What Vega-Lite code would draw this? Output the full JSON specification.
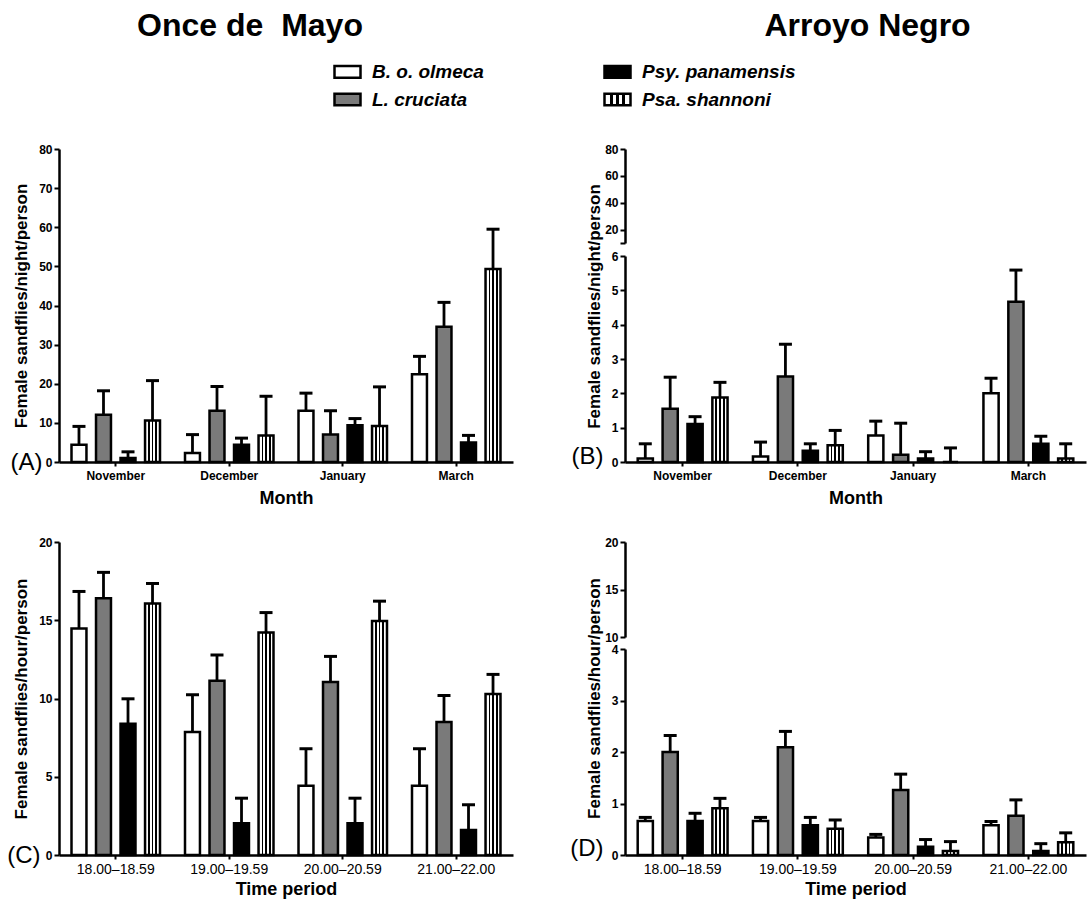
{
  "$schema": "https://vega.github.io/schema/vega-lite/v6.json",
  "autosize": {"type": "none"},
  "padding": {"left": 59, "top": 149, "right": 1033, "bottom": 755},
  "background": "white",
  "data": {"values": [
    {"p":"A","cat":"November","sp":"B. o. olmeca","v":4.4,"u":9.1},
    {"p":"A","cat":"November","sp":"L. cruciata","v":12.1,"u":18.2},
    {"p":"A","cat":"November","sp":"Psy. panamensis","v":1.0,"u":2.6},
    {"p":"A","cat":"November","sp":"Psa. shannoni","v":10.6,"u":20.8},
    {"p":"A","cat":"December","sp":"B. o. olmeca","v":2.3,"u":7.0},
    {"p":"A","cat":"December","sp":"L. cruciata","v":13.1,"u":19.3},
    {"p":"A","cat":"December","sp":"Psy. panamensis","v":4.4,"u":6.1},
    {"p":"A","cat":"December","sp":"Psa. shannoni","v":6.8,"u":16.8},
    {"p":"A","cat":"January","sp":"B. o. olmeca","v":13.1,"u":17.6},
    {"p":"A","cat":"January","sp":"L. cruciata","v":7.0,"u":13.1},
    {"p":"A","cat":"January","sp":"Psy. panamensis","v":9.4,"u":11.1},
    {"p":"A","cat":"January","sp":"Psa. shannoni","v":9.2,"u":19.2},
    {"p":"A","cat":"March","sp":"B. o. olmeca","v":22.4,"u":27.0},
    {"p":"A","cat":"March","sp":"L. cruciata","v":34.6,"u":40.8},
    {"p":"A","cat":"March","sp":"Psy. panamensis","v":5.0,"u":6.8},
    {"p":"A","cat":"March","sp":"Psa. shannoni","v":49.3,"u":59.5},
    {"p":"B","cat":"November","sp":"B. o. olmeca","v":0.10,"u":0.53},
    {"p":"B","cat":"November","sp":"L. cruciata","v":1.55,"u":2.47},
    {"p":"B","cat":"November","sp":"Psy. panamensis","v":1.11,"u":1.32},
    {"p":"B","cat":"November","sp":"Psa. shannoni","v":1.88,"u":2.32},
    {"p":"B","cat":"December","sp":"B. o. olmeca","v":0.16,"u":0.58},
    {"p":"B","cat":"December","sp":"L. cruciata","v":2.49,"u":3.43},
    {"p":"B","cat":"December","sp":"Psy. panamensis","v":0.33,"u":0.53},
    {"p":"B","cat":"December","sp":"Psa. shannoni","v":0.49,"u":0.92},
    {"p":"B","cat":"January","sp":"B. o. olmeca","v":0.77,"u":1.19},
    {"p":"B","cat":"January","sp":"L. cruciata","v":0.21,"u":1.13},
    {"p":"B","cat":"January","sp":"Psy. panamensis","v":0.10,"u":0.30},
    {"p":"B","cat":"January","sp":"Psa. shannoni","v":0,"u":0.41},
    {"p":"B","cat":"March","sp":"B. o. olmeca","v":2.0,"u":2.44},
    {"p":"B","cat":"March","sp":"L. cruciata","v":4.67,"u":5.59},
    {"p":"B","cat":"March","sp":"Psy. panamensis","v":0.53,"u":0.75},
    {"p":"B","cat":"March","sp":"Psa. shannoni","v":0.10,"u":0.53},
    {"p":"C","cat":"18.00–18.59","sp":"B. o. olmeca","v":14.47,"u":16.84},
    {"p":"C","cat":"18.00–18.59","sp":"L. cruciata","v":16.41,"u":18.06},
    {"p":"C","cat":"18.00–18.59","sp":"Psy. panamensis","v":8.38,"u":9.98},
    {"p":"C","cat":"18.00–18.59","sp":"Psa. shannoni","v":16.07,"u":17.35},
    {"p":"C","cat":"19.00–19.59","sp":"B. o. olmeca","v":7.86,"u":10.24},
    {"p":"C","cat":"19.00–19.59","sp":"L. cruciata","v":11.13,"u":12.78},
    {"p":"C","cat":"19.00–19.59","sp":"Psy. panamensis","v":2.03,"u":3.63},
    {"p":"C","cat":"19.00–19.59","sp":"Psa. shannoni","v":14.21,"u":15.49},
    {"p":"C","cat":"20.00–20.59","sp":"B. o. olmeca","v":4.42,"u":6.79},
    {"p":"C","cat":"20.00–20.59","sp":"L. cruciata","v":11.05,"u":12.69},
    {"p":"C","cat":"20.00–20.59","sp":"Psy. panamensis","v":2.03,"u":3.63},
    {"p":"C","cat":"20.00–20.59","sp":"Psa. shannoni","v":14.96,"u":16.22},
    {"p":"C","cat":"21.00–22.00","sp":"B. o. olmeca","v":4.42,"u":6.79},
    {"p":"C","cat":"21.00–22.00","sp":"L. cruciata","v":8.50,"u":10.19},
    {"p":"C","cat":"21.00–22.00","sp":"Psy. panamensis","v":1.60,"u":3.21},
    {"p":"C","cat":"21.00–22.00","sp":"Psa. shannoni","v":10.28,"u":11.54},
    {"p":"D","cat":"18.00–18.59","sp":"B. o. olmeca","v":0.66,"u":0.73},
    {"p":"D","cat":"18.00–18.59","sp":"L. cruciata","v":2.00,"u":2.32},
    {"p":"D","cat":"18.00–18.59","sp":"Psy. panamensis","v":0.66,"u":0.81},
    {"p":"D","cat":"18.00–18.59","sp":"Psa. shannoni","v":0.91,"u":1.10},
    {"p":"D","cat":"19.00–19.59","sp":"B. o. olmeca","v":0.66,"u":0.73},
    {"p":"D","cat":"19.00–19.59","sp":"L. cruciata","v":2.09,"u":2.40},
    {"p":"D","cat":"19.00–19.59","sp":"Psy. panamensis","v":0.58,"u":0.73},
    {"p":"D","cat":"19.00–19.59","sp":"Psa. shannoni","v":0.51,"u":0.68},
    {"p":"D","cat":"20.00–20.59","sp":"B. o. olmeca","v":0.34,"u":0.40},
    {"p":"D","cat":"20.00–20.59","sp":"L. cruciata","v":1.26,"u":1.57},
    {"p":"D","cat":"20.00–20.59","sp":"Psy. panamensis","v":0.16,"u":0.30},
    {"p":"D","cat":"20.00–20.59","sp":"Psa. shannoni","v":0.08,"u":0.26},
    {"p":"D","cat":"21.00–22.00","sp":"B. o. olmeca","v":0.58,"u":0.65},
    {"p":"D","cat":"21.00–22.00","sp":"L. cruciata","v":0.76,"u":1.07},
    {"p":"D","cat":"21.00–22.00","sp":"Psy. panamensis","v":0.08,"u":0.22},
    {"p":"D","cat":"21.00–22.00","sp":"Psa. shannoni","v":0.25,"u":0.43}
  ]},
  "bounds": "flush",
  "columns": 2,
  "spacing": {"row": 80, "column": 112},
  "concat": [
    {
      "width": 454, "height": 313,
      "title": {"text": "Once de\u00a0 Mayo", "fontSize": 32, "font": "Liberation Sans", "fontWeight": "bold", "color": "black", "anchor": "middle", "frame": "group", "baseline": "alphabetic", "offset": 75, "dx": -36},
      "transform": [{"filter": "datum.p==='A'"}],
      "encoding": {
        "x": {"field": "cat", "type": "nominal", "sort": ["November","December","January","March"], "scale": {"paddingInner": 0, "paddingOuter": 0}, "axis": {"title": "Month", "labelAngle": 0, "labelPadding": 4, "titleFontSize": 18, "titlePadding": 8}},
        "xOffset": {"field": "sp", "type": "nominal", "sort": ["B. o. olmeca","L. cruciata","Psy. panamensis","Psa. shannoni"], "scale": {"paddingInner": 0.39, "paddingOuter": 0.51}}
      },
      "layer": [
        {"layer": [
          {"transform": [{"filter": "datum.sp === 'Psa. shannoni'"}],
           "mark": {"type": "bar", "stroke": "black", "strokeWidth": 2.5, "fill": {"gradient": "linear", "x1": 0, "y1": 0, "x2": 1, "y2": 0, "stops": [{"offset": 0, "color": "white"}, {"offset": 0.2, "color": "white"}, {"offset": 0.2, "color": "black"}, {"offset": 0.31, "color": "black"}, {"offset": 0.31, "color": "white"}, {"offset": 0.445, "color": "white"}, {"offset": 0.445, "color": "black"}, {"offset": 0.555, "color": "black"}, {"offset": 0.555, "color": "white"}, {"offset": 0.69, "color": "white"}, {"offset": 0.69, "color": "black"}, {"offset": 0.8, "color": "black"}, {"offset": 0.8, "color": "white"}, {"offset": 1, "color": "white"}]}},
           "encoding": {"y": {"field": "v", "type": "quantitative", "scale": {"domain": [0, 80], "nice": false}, "axis": {"title": "Female sandflies/night/person", "values": [0,10,20,30,40,50,60,70,80], "tickCount": 20, "format": "d", "labelOverlap": false, "titlePadding": 8}}}},
          {"transform": [{"filter": "datum.sp !== 'Psa. shannoni'"}],
           "mark": {"type": "bar", "stroke": "black", "strokeWidth": 2.5},
           "encoding": {
             "y": {"field": "v", "type": "quantitative"},
             "fill": {"field": "sp", "type": "nominal", "scale": {"domain": ["B. o. olmeca","L. cruciata","Psy. panamensis","Psa. shannoni"], "range": ["white", "#7a7a7a", "black", "url(#gradient_0)"]},
               "legend": {"orient": "none", "legendX": 274, "legendY": -92, "columns": 2, "columnPadding": 115, "rowPadding": 2, "title": null, "labelFont": "Liberation Sans", "labelFontSize": 19, "labelFontStyle": "italic", "labelFontWeight": "bold", "labelColor": "black", "labelOffset": 10, "symbolType": "M-1,-0.45H1V0.45H-1Z", "symbolSize": 676, "symbolStrokeColor": "black", "symbolStrokeWidth": 2.5, "symbolOpacity": 1}}
           }},
          {"mark": {"type": "rule", "strokeWidth": 2.8, "color": "black"}, "encoding": {"y": {"field": "v", "type": "quantitative"}, "y2": {"field": "u"}}},
          {"mark": {"type": "tick", "size": 13, "thickness": 3, "color": "black", "opacity": 1}, "encoding": {"y": {"field": "u", "type": "quantitative"}}}
        ]},
        {"mark": {"type": "point", "opacity": 0},
         "encoding": {"y": {"field": "v", "type": "quantitative", "scale": {"domain": [0, 80], "nice": false}, "axis": {"orient": "left", "values": [0], "labelExpr": "'(A)'", "domain": false, "ticks": false, "tickSize": 0, "labelFontSize": 24, "labelFontWeight": "normal", "labelPadding": 17, "title": null}}}}
      ],
      "resolve": {"scale": {"y": "independent"}}
    },
    {
      "width": 461, "height": 313,
      "title": {"text": "Arroyo Negro", "fontSize": 32, "font": "Liberation Sans", "fontWeight": "bold", "color": "black", "anchor": "middle", "frame": "group", "baseline": "alphabetic", "offset": 75, "dx": 12},
      "transform": [{"filter": "datum.p==='B'"}],
      "encoding": {
        "x": {"field": "cat", "type": "nominal", "sort": ["November","December","January","March"], "scale": {"paddingInner": 0, "paddingOuter": 0}, "axis": {"title": "Month", "labelAngle": 0, "labelPadding": 4, "titleFontSize": 18, "titlePadding": 8}},
        "xOffset": {"field": "sp", "type": "nominal", "sort": ["B. o. olmeca","L. cruciata","Psy. panamensis","Psa. shannoni"], "scale": {"paddingInner": 0.39, "paddingOuter": 0.51}}
      },
      "layer": [
        {"layer": [
          {"transform": [{"filter": "datum.sp !== 'Psa. shannoni'"}],
           "mark": {"type": "bar", "stroke": "black", "strokeWidth": 2.5},
           "encoding": {
             "y": {"field": "v", "type": "quantitative", "scale": {"domain": [0, 6], "range": [313, 107], "nice": false}, "axis": {"title": "Female sandflies/night/person", "values": [0,1,2,3,4,5,6], "tickCount": 20, "format": "d", "titlePadding": 8, "titleY": 157}},
             "fill": {"field": "sp", "type": "nominal", "scale": {"domain": ["B. o. olmeca","L. cruciata","Psy. panamensis","Psa. shannoni"], "range": ["white", "#7a7a7a", "black", "url(#gradient_0)"]}, "legend": null}
           }},
          {"transform": [{"filter": "datum.sp === 'Psa. shannoni'"}],
           "mark": {"type": "bar", "stroke": "black", "strokeWidth": 2.5, "fill": {"gradient": "linear", "x1": 0, "y1": 0, "x2": 1, "y2": 0, "stops": [{"offset": 0, "color": "white"}, {"offset": 0.2, "color": "white"}, {"offset": 0.2, "color": "black"}, {"offset": 0.31, "color": "black"}, {"offset": 0.31, "color": "white"}, {"offset": 0.445, "color": "white"}, {"offset": 0.445, "color": "black"}, {"offset": 0.555, "color": "black"}, {"offset": 0.555, "color": "white"}, {"offset": 0.69, "color": "white"}, {"offset": 0.69, "color": "black"}, {"offset": 0.8, "color": "black"}, {"offset": 0.8, "color": "white"}, {"offset": 1, "color": "white"}]}},
           "encoding": {"y": {"field": "v", "type": "quantitative"}}},
          {"mark": {"type": "rule", "strokeWidth": 2.8, "color": "black"}, "encoding": {"y": {"field": "v", "type": "quantitative"}, "y2": {"field": "u"}}},
          {"mark": {"type": "tick", "size": 13, "thickness": 3, "color": "black", "opacity": 1}, "encoding": {"y": {"field": "u", "type": "quantitative"}}}
        ]},
        {"mark": {"type": "point", "opacity": 0},
         "encoding": {"y": {"field": "u", "type": "quantitative", "scale": {"domain": [10, 80], "range": [94, 0], "nice": false, "zero": false}, "axis": {"orient": "left", "values": [10,20,40,60,80], "tickCount": 20, "format": "d", "labelExpr": "datum.value == 10 ? '' : datum.label", "title": null}}}},
        {"mark": {"type": "point", "opacity": 0},
         "encoding": {"y": {"field": "v", "type": "quantitative", "scale": {"domain": [0, 6], "range": [313, 107], "nice": false}, "axis": {"orient": "left", "values": [0], "labelExpr": "'(B)'", "domain": false, "ticks": false, "tickSize": 0, "labelFontSize": 24, "labelFontWeight": "normal", "labelPadding": 22, "labelOffset": -6, "title": null}}}}
      ],
      "resolve": {"scale": {"y": "independent"}}
    },
    {
      "width": 454, "height": 313,
      "transform": [{"filter": "datum.p==='C'"}],
      "encoding": {
        "x": {"field": "cat", "type": "nominal", "sort": ["18.00–18.59","19.00–19.59","20.00–20.59","21.00–22.00"], "scale": {"paddingInner": 0, "paddingOuter": 0}, "axis": {"title": "Time period", "labelAngle": 0, "labelPadding": 3, "labelFontSize": 14, "labelFontWeight": "normal", "titleFontSize": 18, "titlePadding": 4}},
        "xOffset": {"field": "sp", "type": "nominal", "sort": ["B. o. olmeca","L. cruciata","Psy. panamensis","Psa. shannoni"], "scale": {"paddingInner": 0.39, "paddingOuter": 0.51}}
      },
      "layer": [
        {"layer": [
          {"transform": [{"filter": "datum.sp !== 'Psa. shannoni'"}],
           "mark": {"type": "bar", "stroke": "black", "strokeWidth": 2.5},
           "encoding": {
             "y": {"field": "v", "type": "quantitative", "scale": {"domain": [0, 20], "nice": false}, "axis": {"title": "Female sandflies/hour/person", "values": [0,5,10,15,20], "tickCount": 20, "format": "d", "titlePadding": 8}},
             "fill": {"field": "sp", "type": "nominal", "scale": {"domain": ["B. o. olmeca","L. cruciata","Psy. panamensis","Psa. shannoni"], "range": ["white", "#7a7a7a", "black", "url(#gradient_0)"]}, "legend": null}
           }},
          {"transform": [{"filter": "datum.sp === 'Psa. shannoni'"}],
           "mark": {"type": "bar", "stroke": "black", "strokeWidth": 2.5, "fill": {"gradient": "linear", "x1": 0, "y1": 0, "x2": 1, "y2": 0, "stops": [{"offset": 0, "color": "white"}, {"offset": 0.2, "color": "white"}, {"offset": 0.2, "color": "black"}, {"offset": 0.31, "color": "black"}, {"offset": 0.31, "color": "white"}, {"offset": 0.445, "color": "white"}, {"offset": 0.445, "color": "black"}, {"offset": 0.555, "color": "black"}, {"offset": 0.555, "color": "white"}, {"offset": 0.69, "color": "white"}, {"offset": 0.69, "color": "black"}, {"offset": 0.8, "color": "black"}, {"offset": 0.8, "color": "white"}, {"offset": 1, "color": "white"}]}},
           "encoding": {"y": {"field": "v", "type": "quantitative"}}},
          {"mark": {"type": "rule", "strokeWidth": 2.8, "color": "black"}, "encoding": {"y": {"field": "v", "type": "quantitative"}, "y2": {"field": "u"}}},
          {"mark": {"type": "tick", "size": 13, "thickness": 3, "color": "black", "opacity": 1}, "encoding": {"y": {"field": "u", "type": "quantitative"}}}
        ]},
        {"mark": {"type": "point", "opacity": 0},
         "encoding": {"y": {"field": "v", "type": "quantitative", "scale": {"domain": [0, 20], "nice": false}, "axis": {"orient": "left", "values": [0], "labelExpr": "'(C)'", "domain": false, "ticks": false, "tickSize": 0, "labelFontSize": 24, "labelFontWeight": "normal", "labelPadding": 19, "title": null}}}}
      ],
      "resolve": {"scale": {"y": "independent"}}
    },
    {
      "width": 461, "height": 313,
      "transform": [{"filter": "datum.p==='D'"}],
      "encoding": {
        "x": {"field": "cat", "type": "nominal", "sort": ["18.00–18.59","19.00–19.59","20.00–20.59","21.00–22.00"], "scale": {"paddingInner": 0, "paddingOuter": 0}, "axis": {"title": "Time period", "labelAngle": 0, "labelPadding": 3, "labelFontSize": 14, "labelFontWeight": "normal", "titleFontSize": 18, "titlePadding": 4}},
        "xOffset": {"field": "sp", "type": "nominal", "sort": ["B. o. olmeca","L. cruciata","Psy. panamensis","Psa. shannoni"], "scale": {"paddingInner": 0.39, "paddingOuter": 0.51}}
      },
      "layer": [
        {"layer": [
          {"transform": [{"filter": "datum.sp !== 'Psa. shannoni'"}],
           "mark": {"type": "bar", "stroke": "black", "strokeWidth": 2.5},
           "encoding": {
             "y": {"field": "v", "type": "quantitative", "scale": {"domain": [0, 4], "range": [313, 107], "nice": false}, "axis": {"title": "Female sandflies/hour/person", "values": [0,1,2,3,4], "tickCount": 20, "format": "d", "titlePadding": 8, "titleY": 156}},
             "fill": {"field": "sp", "type": "nominal", "scale": {"domain": ["B. o. olmeca","L. cruciata","Psy. panamensis","Psa. shannoni"], "range": ["white", "#7a7a7a", "black", "url(#gradient_0)"]}, "legend": null}
           }},
          {"transform": [{"filter": "datum.sp === 'Psa. shannoni'"}],
           "mark": {"type": "bar", "stroke": "black", "strokeWidth": 2.5, "fill": {"gradient": "linear", "x1": 0, "y1": 0, "x2": 1, "y2": 0, "stops": [{"offset": 0, "color": "white"}, {"offset": 0.2, "color": "white"}, {"offset": 0.2, "color": "black"}, {"offset": 0.31, "color": "black"}, {"offset": 0.31, "color": "white"}, {"offset": 0.445, "color": "white"}, {"offset": 0.445, "color": "black"}, {"offset": 0.555, "color": "black"}, {"offset": 0.555, "color": "white"}, {"offset": 0.69, "color": "white"}, {"offset": 0.69, "color": "black"}, {"offset": 0.8, "color": "black"}, {"offset": 0.8, "color": "white"}, {"offset": 1, "color": "white"}]}},
           "encoding": {"y": {"field": "v", "type": "quantitative"}}},
          {"mark": {"type": "rule", "strokeWidth": 2.8, "color": "black"}, "encoding": {"y": {"field": "v", "type": "quantitative"}, "y2": {"field": "u"}}},
          {"mark": {"type": "tick", "size": 13, "thickness": 3, "color": "black", "opacity": 1}, "encoding": {"y": {"field": "u", "type": "quantitative"}}}
        ]},
        {"mark": {"type": "point", "opacity": 0},
         "encoding": {"y": {"field": "u", "type": "quantitative", "scale": {"domain": [10, 20], "range": [95, 0], "nice": false, "zero": false}, "axis": {"orient": "left", "values": [10,15,20], "tickCount": 20, "format": "d", "title": null}}}},
        {"mark": {"type": "point", "opacity": 0},
         "encoding": {"y": {"field": "v", "type": "quantitative", "scale": {"domain": [0, 4], "range": [313, 107], "nice": false}, "axis": {"orient": "left", "values": [0], "labelExpr": "'(D)'", "domain": false, "ticks": false, "tickSize": 0, "labelFontSize": 24, "labelFontWeight": "normal", "labelPadding": 22, "labelOffset": -7, "title": null}}}}
      ],
      "resolve": {"scale": {"y": "independent"}}
    }
  ],
  "resolve": {"scale": {"y": "independent", "x": "independent", "xOffset": "independent"}},
  "config": {
    "view": {"stroke": null},
    "axis": {"grid": false, "labelOverlap": false, "domainColor": "black", "domainWidth": 2.5, "tickColor": "black", "tickWidth": 2, "tickSize": 5, "labelFont": "Liberation Sans", "labelFontWeight": "bold", "labelFontSize": 12, "labelColor": "black", "labelPadding": 2, "titleFont": "Liberation Sans", "titleFontWeight": "bold", "titleFontSize": 17, "titleColor": "black"},
    "axisX": {"tickSize": 4}
  }
}
